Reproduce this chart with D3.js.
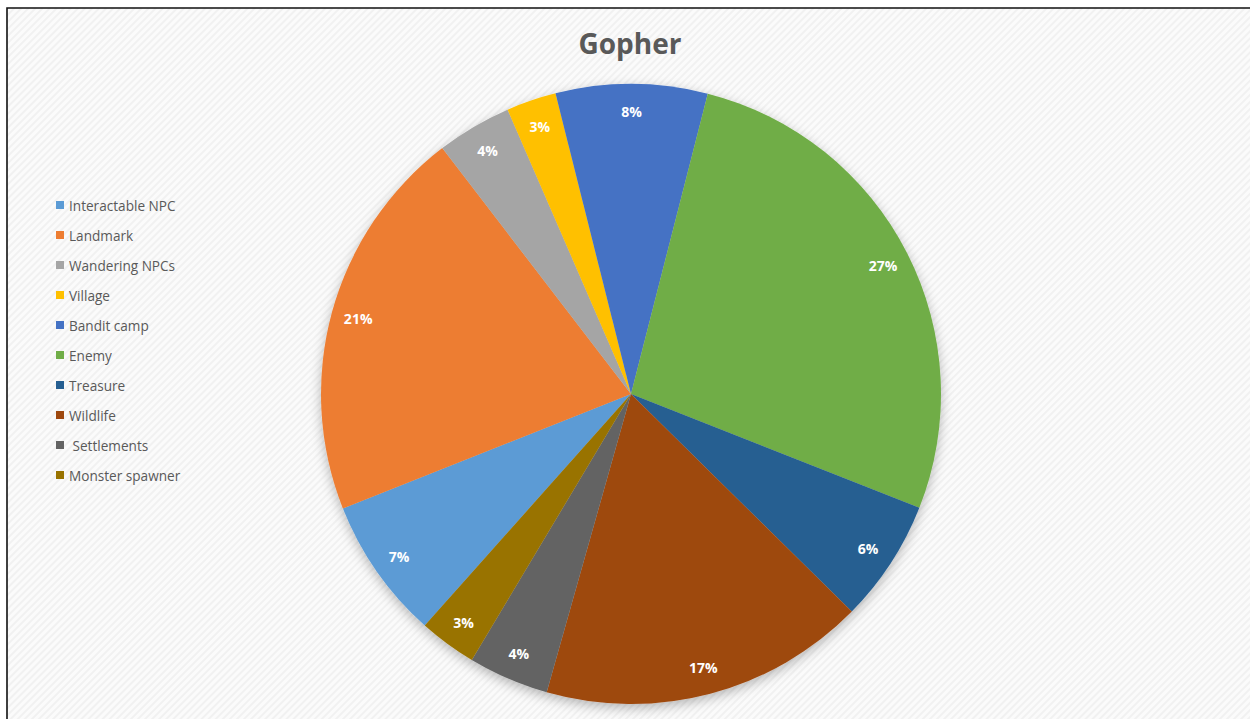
<!DOCTYPE html>
<html>
<head>
<meta charset="utf-8">
<script src="https://cdn.jsdelivr.net/npm/d3@7"></script>
<style>
  html, body { margin: 0; padding: 0; background: #ffffff; }
  svg { display: block; }
  text { font-family: "Open Sans", "Liberation Sans", sans-serif; }
</style>
</head>
<body>
<svg id="chart" width="1250" height="719"></svg>
<script>
// Categories in drawing order (clockwise), with their share of the total
const categories = ["Interactable NPC", "Landmark", "Wandering NPCs", "Village", "Bandit camp",
                    "Enemy", "Treasure", "Wildlife", "Settlements", "Monster spawner"];
const values = [7.4, 20.6, 3.9, 2.6, 7.9, 27.0, 6.4, 17.0, 4.2, 3.0];
const legendLabels = ["Interactable NPC", "Landmark", "Wandering NPCs", "Village", "Bandit camp",
                      "Enemy", "Treasure", "Wildlife", " Settlements", "Monster spawner"];
const colors = ["#5B9BD5", "#ED7D31", "#A5A5A5", "#FFC000", "#4472C4",
                "#70AD47", "#255E91", "#9E480E", "#636363", "#997300"];
const title = "Gopher";

const W = 1250, H = 719;
const cx = 631, cy = 394, R = 310;
const firstSliceAngle = 221.7; // degrees clockwise from 12 o'clock

const svg = d3.select("#chart");
const defs = svg.append("defs");

// Faint diagonal hatching of the chart area
const pat = defs.append("pattern")
  .attr("id", "hatch").attr("patternUnits", "userSpaceOnUse")
  .attr("width", 5).attr("height", 5)
  .attr("patternTransform", "rotate(45)");
pat.append("rect").attr("width", 5).attr("height", 5).attr("fill", "#fbfbfb");
pat.append("rect").attr("width", 2).attr("height", 5).attr("fill", "#f1f1f1");

// Soft shadow under the pie
const shadow = defs.append("filter").attr("id", "pieShadow")
  .attr("x", "-10%").attr("y", "-10%").attr("width", "120%").attr("height", "125%");
shadow.append("feDropShadow")
  .attr("dx", 0).attr("dy", 4).attr("stdDeviation", 6)
  .attr("flood-color", "#000").attr("flood-opacity", 0.28);

// Chart area and its frame
svg.append("rect").attr("x", 7).attr("y", 8).attr("width", W - 7).attr("height", H - 8)
  .attr("fill", "url(#hatch)");
svg.append("path")
  .attr("d", `M7,${H} L7,8 L${W},8`)
  .attr("fill", "none").attr("stroke", "#111").attr("stroke-width", 1.6);

// Title
svg.append("text")
  .attr("x", 630).attr("y", 54)
  .attr("text-anchor", "middle")
  .attr("font-size", 28).attr("font-weight", 700)
  .attr("fill", "#595959")
  .text(title);

// Pie
const color = d3.scaleOrdinal().domain(categories).range(colors);
const start = firstSliceAngle * Math.PI / 180;
const pie = d3.pie().sort(null).value(d => d.value)
  .startAngle(start).endAngle(start + 2 * Math.PI);
const data = categories.map((c, i) => ({ category: c, value: values[i] }));
const arcs = pie(data);
const total = d3.sum(values);

const arc = d3.arc().innerRadius(0).outerRadius(R);
const labelArc = d3.arc().innerRadius(283).outerRadius(283);

const g = svg.append("g").attr("transform", `translate(${cx},${cy})`);
const slices = g.append("g").attr("filter", "url(#pieShadow)");
slices.selectAll("path")
  .data(arcs)
  .join("path")
  .attr("d", arc)
  .attr("fill", d => color(d.data.category));

// Percentage labels
const fmt = d3.format(".0%");
g.append("g").selectAll("text")
  .data(arcs)
  .join("text")
  .attr("transform", d => `translate(${labelArc.centroid(d)})`)
  .attr("text-anchor", "middle")
  .attr("dominant-baseline", "central")
  .attr("font-size", 14).attr("font-weight", 700)
  .attr("fill", "#ffffff")
  .text(d => fmt(d.data.value / total));

// Legend
const legendY = d3.scalePoint().domain(categories).range([205, 475]);
const legend = svg.append("g");
const items = legend.selectAll("g")
  .data(categories)
  .join("g")
  .attr("transform", d => `translate(56,${legendY(d)})`);
items.append("rect")
  .attr("x", 0).attr("y", -4).attr("width", 8).attr("height", 8)
  .attr("fill", d => color(d));
items.append("text")
  .attr("x", 13).attr("y", 0)
  .attr("dominant-baseline", "central")
  .attr("font-size", 13.6)
  .attr("fill", "#595959")
  .style("white-space", "pre")
  .text((d, i) => legendLabels[i]);
</script>
</body>
</html>
